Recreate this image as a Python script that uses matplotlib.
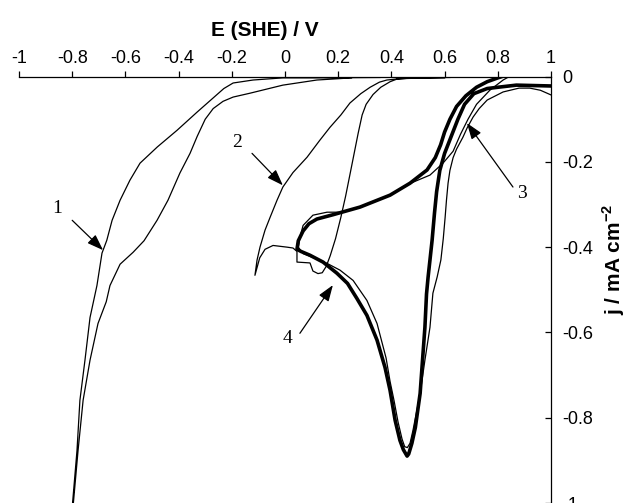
import numpy as np
import matplotlib
matplotlib.use("Agg")
import matplotlib.pyplot as plt

plt.rcParams['font.family'] = ['Liberation Sans', 'DejaVu Sans']
plt.rcParams['axes.unicode_minus'] = False
plt.rcParams['mathtext.fontset'] = 'custom'
plt.rcParams['mathtext.rm'] = 'Liberation Sans'
plt.rcParams['mathtext.bf'] = 'Liberation Sans:bold'

# ---- data (E in V vs SHE, j in mA cm-2) ----
curve1_E = [0.25, 0.12, -0.008, -0.132, -0.195, -0.233, -0.27, -0.3, -0.33, -0.357, -0.395,
            -0.44, -0.481, -0.53, -0.571, -0.62, -0.658, -0.672, -0.703, -0.733, -0.759,
            -0.778, -0.797,
            -0.80, -0.782, -0.771, -0.752, -0.733, -0.707, -0.688, -0.67, -0.65, -0.62,
            -0.583, -0.545, -0.48, -0.406, -0.33, -0.27, -0.23, -0.195, -0.12, -0.008,
            0.13, 0.357]
curve1_j = [-0.003, -0.008, -0.02, -0.039, -0.048, -0.058, -0.075, -0.1, -0.14, -0.18,
            -0.226, -0.29, -0.337, -0.385, -0.412, -0.44, -0.49, -0.528, -0.579, -0.665,
            -0.759, -0.877, -1.01,
            -1.01, -0.877, -0.759, -0.665, -0.565, -0.49, -0.414, -0.384, -0.337, -0.29,
            -0.243, -0.203, -0.165, -0.126, -0.083, -0.05, -0.028, -0.015, -0.008, -0.003,
            -0.003, -0.002]

curve2_E = [0.62, 0.48, 0.42, 0.395, 0.36, 0.331, 0.305, 0.29, 0.275, 0.26, 0.245, 0.228,
            0.21, 0.19, 0.17, 0.155, 0.14, 0.124, 0.105, 0.094, 0.07, 0.045, 0.045, 0.03,
            0.008, -0.045, -0.075, -0.095, -0.113, -0.105, -0.094, -0.075, -0.056, -0.03,
            -0.008, 0.03, 0.083, 0.13, 0.169, 0.21, 0.244, 0.285, 0.32, 0.355, 0.383, 0.43,
            0.481, 0.6]
curve2_j = [-0.002, -0.003, -0.006, -0.012, -0.025, -0.042, -0.065, -0.09, -0.133, -0.18,
            -0.227, -0.28, -0.33, -0.38, -0.42, -0.445, -0.46, -0.462, -0.456, -0.437, -0.436,
            -0.435, -0.41, -0.402, -0.4, -0.396, -0.405, -0.425, -0.466, -0.43, -0.4, -0.36,
            -0.33, -0.29, -0.259, -0.225, -0.189, -0.15, -0.119, -0.09, -0.062, -0.04, -0.025,
            -0.013, -0.008, -0.005, -0.004, -0.003]

curve3_E = [1.0, 0.96, 0.92, 0.88, 0.82, 0.76, 0.73, 0.707, 0.685, 0.669, 0.645, 0.632,
            0.62, 0.613, 0.607, 0.602, 0.595, 0.586, 0.572, 0.556, 0.545, 0.526, 0.508, 0.481,
            0.47, 0.46, 0.45, 0.44, 0.425, 0.41, 0.395, 0.38, 0.346, 0.308, 0.256, 0.207,
            0.158, 0.12, 0.068, 0.05, 0.056, 0.068, 0.105, 0.158, 0.207, 0.282, 0.395, 0.48,
            0.545, 0.594, 0.632, 0.66, 0.688, 0.72, 0.77, 0.82, 0.84]
curve3_j = [-0.043, -0.032, -0.027, -0.027, -0.036, -0.055, -0.075, -0.095, -0.12, -0.142,
            -0.17, -0.19, -0.22, -0.25, -0.29, -0.33, -0.38, -0.43, -0.47, -0.508, -0.588,
            -0.665, -0.743, -0.83, -0.86, -0.87, -0.868, -0.85, -0.81, -0.76, -0.715, -0.66,
            -0.579, -0.525, -0.478, -0.454, -0.438, -0.428, -0.415, -0.40, -0.377, -0.349,
            -0.325, -0.318, -0.318, -0.306, -0.278, -0.248, -0.231, -0.203, -0.175, -0.135,
            -0.10, -0.065, -0.032, -0.008, -0.001]

curve4_E = [1.0, 0.87, 0.80, 0.76, 0.71, 0.675, 0.65, 0.625, 0.6, 0.582, 0.57, 0.562,
            0.553, 0.545, 0.538, 0.532, 0.526, 0.517, 0.508, 0.49, 0.477, 0.465, 0.459,
            0.445, 0.432, 0.414, 0.395, 0.376, 0.346, 0.308, 0.27, 0.235, 0.195, 0.143,
            0.094, 0.06, 0.045, 0.05, 0.068, 0.09, 0.12, 0.18, 0.282, 0.395, 0.47, 0.534,
            0.565, 0.585, 0.6, 0.62, 0.645, 0.68, 0.72, 0.76, 0.8, 0.81]
curve4_j = [-0.022, -0.02, -0.025, -0.028, -0.04, -0.065, -0.1, -0.14, -0.18, -0.22,
            -0.27, -0.32, -0.384, -0.43, -0.47, -0.51, -0.588, -0.665, -0.743, -0.823, -0.86,
            -0.885, -0.89, -0.875, -0.853, -0.806, -0.736, -0.682, -0.618, -0.56, -0.52,
            -0.485, -0.461, -0.435, -0.419, -0.41, -0.405, -0.385, -0.362, -0.345, -0.334,
            -0.324, -0.306, -0.278, -0.25, -0.219, -0.19, -0.16, -0.13, -0.1, -0.07, -0.045,
            -0.025, -0.012, -0.003, -0.001]

x_ticks = [-1, -0.8, -0.6, -0.4, -0.2, 0, 0.2, 0.4, 0.6, 0.8, 1]
x_tick_labels = ['-1', '-0.8', '-0.6', '-0.4', '-0.2', '0', '0.2', '0.4', '0.6', '0.8', '1']
y_ticks = [0, -0.2, -0.4, -0.6, -0.8, -1]
y_tick_labels = ['0', '-0.2', '-0.4', '-0.6', '-0.8', '-1']

# curve labels: text position, arrow tail, arrow head
labels = ['1', '2', '3', '4']
label_pos = [(-0.857, -0.309), (-0.18, -0.154), (0.891, -0.273), (0.008, -0.614)]
arrow_tail = [(-0.80, -0.337), (-0.124, -0.18), (0.857, -0.259), (0.056, -0.602)]
arrow_head = [(-0.684, -0.407), (-0.008, -0.255), (0.684, -0.109), (0.18, -0.489)]

fig = plt.figure(figsize=(6.3, 5.03), dpi=100)
ax = fig.add_axes([19 / 630, 0.0, 532 / 630, 1 - 76.6 / 503])

ax.plot(curve1_E, curve1_j, color='black', lw=0.9)
ax.plot(curve2_E, curve2_j, color='black', lw=0.9)
ax.plot(curve3_E, curve3_j, color='black', lw=0.9)
ax.plot(curve4_E, curve4_j, color='black', lw=2.6, solid_joinstyle='round')

for lab, p, t, h in zip(labels, label_pos, arrow_tail, arrow_head):
    ax.text(p[0], p[1], lab, family='Liberation Serif', fontsize=14,
            ha='center', va='center')
    ax.annotate('', xy=h, xytext=t,
                arrowprops=dict(arrowstyle='-|>,head_length=0.7,head_width=0.25',
                                color='black', lw=0.9, mutation_scale=14,
                                shrinkA=0, shrinkB=0))

ax.set_xlim(-1, 1)
ax.set_ylim(-1, 0)
for side in ['left', 'bottom']:
    ax.spines[side].set_visible(False)
ax.spines['top'].set_linewidth(0.9)
ax.spines['right'].set_linewidth(0.9)

ax.xaxis.tick_top()
ax.yaxis.tick_right()
ax.set_xticks(x_ticks)
ax.set_xticklabels(x_tick_labels)
ax.set_yticks(y_ticks)
ax.set_yticklabels(y_tick_labels)
ax.tick_params(axis='x', direction='out', length=4, width=0.9, pad=3, labelsize=13)
ax.tick_params(axis='y', direction='in', length=4, width=0.9, pad=8, labelsize=13)

# axis titles placed where the reference has them
ax.text((265 - 19) / 532, 1 + 46.6 / 426.4, 'E (SHE) / V',
        transform=ax.transAxes, ha='center', va='center', fontsize=15, fontweight='bold')
ax.text((614 - 19) / 532, (503 - 259) / 426.4, r'j / mA cm$^{\mathbf{-2}}$',
        transform=ax.transAxes, ha='center', va='center', rotation=90,
        fontsize=15, fontweight='bold')

fig.savefig('out.png', dpi=100)
